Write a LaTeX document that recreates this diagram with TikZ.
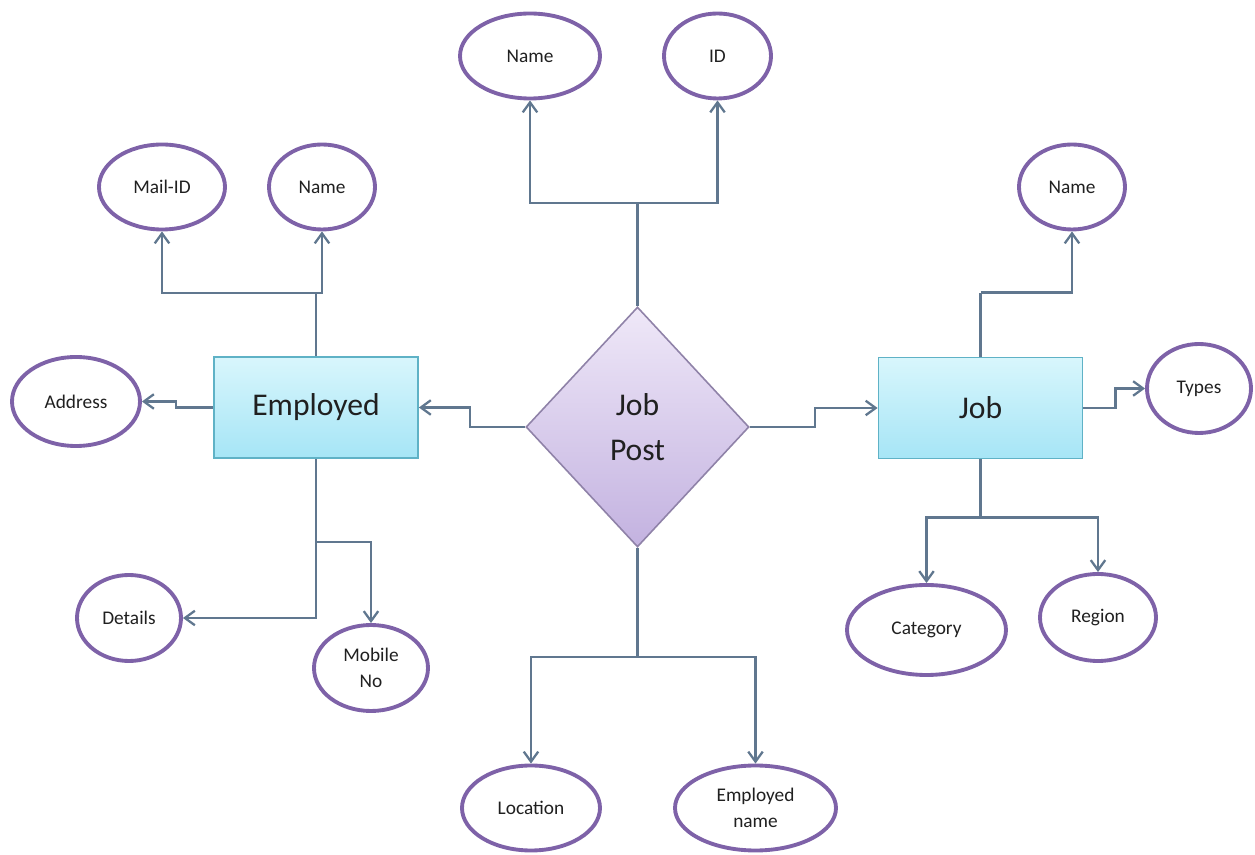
\documentclass[tikz,border=0pt]{standalone}
\usepackage{fontspec}
\setmainfont{Carlito}
\usetikzlibrary{shapes,arrows.meta,positioning,calc}

\definecolor{linkblue}{HTML}{60778F}
\definecolor{attrpurple}{HTML}{7E62A8}
\definecolor{boxedge}{HTML}{5FB2C6}
\definecolor{boxtop}{HTML}{D8F6FC}
\definecolor{boxbottom}{HTML}{A6E5F6}
\definecolor{diamtop}{HTML}{EFE8F8}
\definecolor{diambottom}{HTML}{C3B2E0}
\definecolor{diamedge}{HTML}{8F82A8}
\definecolor{inkgrey}{HTML}{202020}

\begin{document}
\begin{tikzpicture}[node distance=1cm, on grid]
\tikzset{
    %Define standard arrow tip
    >={Straight Barb[length=2mm,width=2.9mm]},
    %Define style for entity boxes
    entity/.style={
           rectangle,
           draw=boxedge, line width=1pt,
           top color=boxtop, bottom color=boxbottom,
           minimum width=4.08cm,
           minimum height=2.02cm,
           text=inkgrey,
           font=\fontsize{18}{22}\selectfont},
    % Define style for the relation
    relation/.style={
           diamond,
           draw=diamedge, line width=0.9pt,
           top color=diamtop, bottom color=diambottom,
           minimum width=4.46cm,
           minimum height=4.8cm,
           inner sep=0pt, aspect=0.93,
           align=center, text=inkgrey,
           font=\fontsize{18}{25.5}\selectfont},
    % Define style for attributes
    attr/.style={
           ellipse,
           draw=attrpurple, line width=2.2pt,
           fill=white,
           inner sep=0pt,
           minimum width=2.2cm,
           minimum height=1.7cm,
           align=center, text=inkgrey,
           font=\fontsize{11}{15}\selectfont},
    % Define connector style
    link/.style={
           draw=linkblue,
           line width=1.3pt}
}
\useasboundingbox (0,0) rectangle (25.1,-17.1);

 %entities and relation
 \node[entity] (emp) at (6.32,-8.15) {Employed};
 \node[relation, below right=0.39cm and 6.43cm of emp] (post) {Job\\Post};
 \node[entity, above right=0.38cm and 6.86cm of post] (job) {Job};

 %attributes of the relation
 \node[attr, minimum width=2.8cm, above left=7.42cm and 2.15cm of post] (pname) {Name};
 \node[attr, minimum width=2.14cm, above right=7.42cm and 1.6cm of post] (pid) {ID};
 \node[attr, minimum width=2.76cm, below left=7.62cm and 2.13cm of post] (loc) {Location};
 \node[attr, minimum width=3.22cm, below right=7.62cm and 2.36cm of post] (empname) {Employed\\name};

 %attributes of Employed
 \node[attr, minimum width=2.52cm, above left=4.41cm and 3.08cm of emp] (mail) {Mail-ID};
 \node[attr, minimum width=2.12cm, above right=4.41cm and 0.12cm of emp] (ename) {Name};
 \node[attr, minimum width=2.56cm, minimum height=1.78cm, above left=0.12cm and 4.8cm of emp] (addr) {Address};
 \node[attr, minimum width=2.08cm, minimum height=1.72cm, below left=4.21cm and 3.74cm of emp] (details) {Details};
 \node[attr, minimum width=2.28cm, minimum height=1.72cm, below right=5.21cm and 1.1cm of emp] (mobile) {Mobile\\No};

 %attributes of Job
 \node[attr, minimum width=2.12cm, above right=4.42cm and 1.83cm of job] (jname) {Name};
 \node[attr, minimum width=2.08cm, minimum height=1.78cm, above right=0.39cm and 4.37cm of job] (types) {Types};
 \node[attr, minimum width=3.18cm, minimum height=1.8cm, below left=4.44cm and 1.08cm of job] (cat) {Category};
 \node[attr, minimum width=2.32cm, minimum height=1.74cm, below right=4.19cm and 2.35cm of job] (region) {Region};

 % relation to entities
 \draw[link,->] (post.west) -- ++(-1.1,0) |- (emp.east);
 \draw[link,->] (post.east) -- ++(1.3,0) |- (job.west);

 % relation attributes
 \draw[link] (post.north) -- ++(0,2.06) coordinate (topbus);
 \draw[link,->] (topbus) -| (pname.south);
 \draw[link,->] (topbus) -| (pid.south);
 \draw[link] (post.south) -- ++(0,-2.18) coordinate (lowbus);
 \draw[link,->] (lowbus) -| (loc.north);
 \draw[link,->] (lowbus) -| (empname.north);

 % Employed attributes
 \draw[link] (emp.north) -- ++(0,1.26) coordinate (empbus);
 \draw[link,->] (empbus) -| (mail.south);
 \draw[link,->] (empbus) -| (ename.south);
 \draw[link,->] (emp.west) -- ++(-0.74,0) |- (addr.east);
 \draw[link,->] (emp.south) |- (details.east);
 \coordinate (empfork) at ($(emp.south)+(0,-1.66)$);
 \draw[link,->] (empfork) -| (mobile.north);

 % Job attributes
 \draw[link] (job.north) -- ++(0,1.28) coordinate (jobbus);
 \draw[link,->] (jobbus) -| (jname.south);
 \draw[link,->] (job.east) -- ++(0.64,0) |- (types.west);
 \draw[link] (job.south) -- ++(0,-1.16) coordinate (jobfork);
 \draw[link,->] (jobfork) -| (cat.north);
 \draw[link,->] (jobfork) -| (region.north);
\end{tikzpicture}
\end{document}
